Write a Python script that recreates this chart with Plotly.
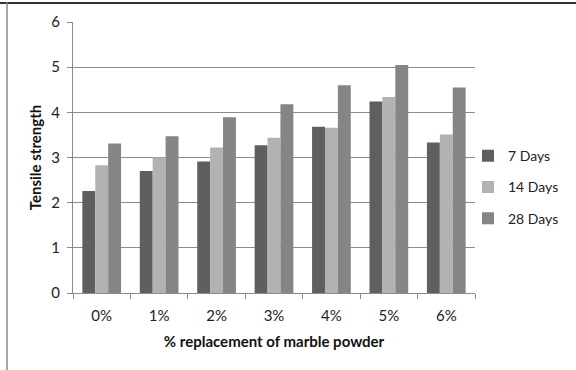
import plotly.graph_objects as go

categories = ["0%", "1%", "2%", "3%", "4%", "5%", "6%"]
days7 = [2.26, 2.70, 2.91, 3.27, 3.68, 4.24, 3.33]
days14 = [2.83, 3.00, 3.22, 3.44, 3.66, 4.34, 3.51]
days28 = [3.31, 3.47, 3.89, 4.18, 4.60, 5.05, 4.55]
series_names = ["7 Days", "14 Days", "28 Days"]
colors = ["#5f5f5f", "#b2b2b2", "#858585"]

FONT = "Lato, Open Sans, sans-serif"

fig = go.Figure()
for i, (name, vals) in enumerate(zip(series_names, [days7, days14, days28])):
    fig.add_trace(go.Bar(
        x=categories, y=vals, name=name,
        marker=dict(color=colors[i], line=dict(width=0)),
        legendgroup=name,
    ))

L, R, T, B = 73, 475, 20, 293
W, H = 576, 370
pw, ph = R - L, B - T

def px(x):
    return (x - L) / pw

def py(y):
    return (B - y) / ph

fig.update_layout(
    width=W, height=H,
    margin=dict(l=L, r=W - R, t=T, b=H - B),
    paper_bgcolor="white", plot_bgcolor="white",
    barmode="group", bargap=0.326, bargroupgap=0,
    font=dict(family=FONT, color="#222222", size=15),
    showlegend=True,
    legend=dict(
        x=px(468), y=py(139), xanchor="left", yanchor="top",
        font=dict(size=14, family=FONT, color="#222222"),
        traceorder="grouped", tracegroupgap=10,
        bgcolor="rgba(0,0,0,0)", borderwidth=0,
    ),
    xaxis=dict(
        showgrid=False, showline=True, linecolor="#8c8c8c", linewidth=1,
        ticks="outside", tickson="boundaries", ticklen=5, tickcolor="#8c8c8c",
        tickfont=dict(size=15, family=FONT, color="#222222"),
        ticklabelstandoff=9,
        title=dict(text="<b>% replacement of marble powder</b>",
                   font=dict(size=15, family=FONT, color="#111111"), standoff=13),
    ),
    yaxis=dict(
        range=[0, 6], dtick=1, showgrid=True, gridcolor="#8c8c8c", gridwidth=1,
        showline=True, linecolor="#8c8c8c", linewidth=1,
        ticks="outside", ticklen=5, tickcolor="#8c8c8c",
        tickfont=dict(size=15, family=FONT, color="#222222"),
        ticklabelstandoff=4,
        zeroline=False,
        title=dict(text="<b>Tensile strength</b>",
                   font=dict(size=15, family=FONT, color="#111111"), standoff=6),
    ),
    shapes=[
        dict(type="line", xref="paper", yref="paper",
             x0=px(-20), x1=px(W + 40), y0=py(0.8), y1=py(0.8),
             line=dict(color="#333333", width=2)),
        dict(type="line", xref="paper", yref="paper",
             x0=px(7), x1=px(7), y0=py(0), y1=py(H + 20),
             line=dict(color="#888888", width=1.5)),
    ],
)

fig.write_html("out.html")
